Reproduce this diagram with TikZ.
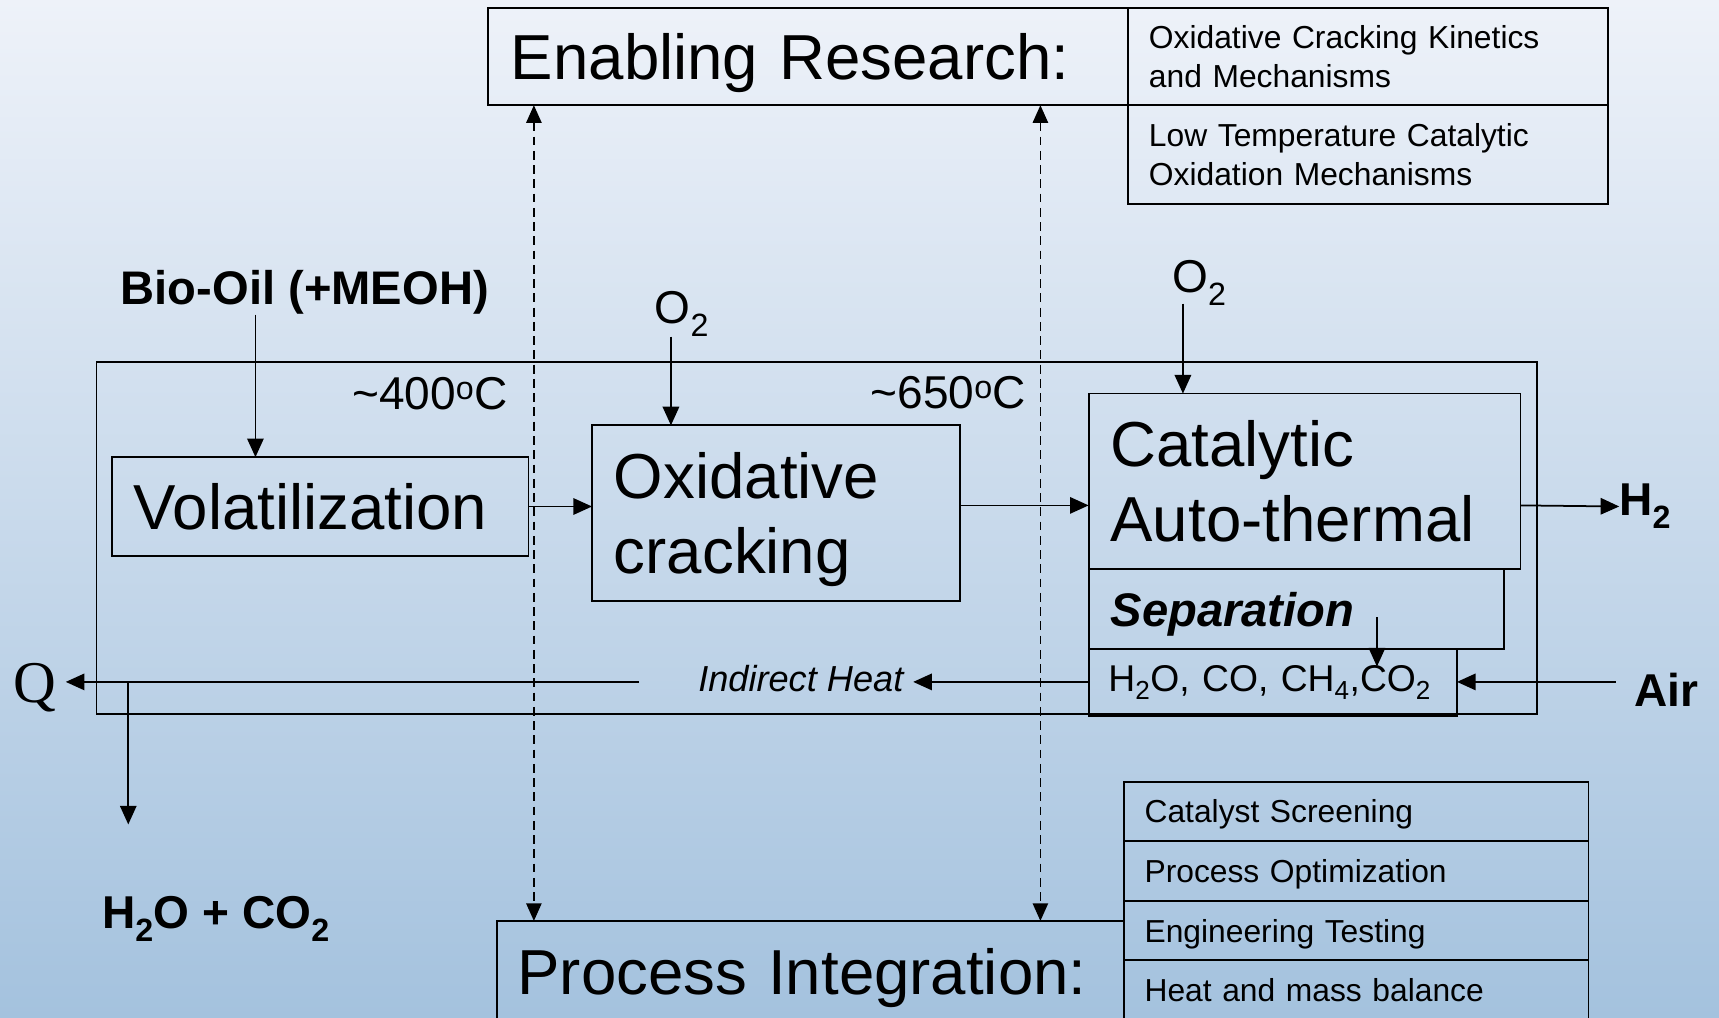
\documentclass[tikz,border=0pt]{standalone}
\usepackage{fontspec}
\setmainfont{Liberation Sans}
\newfontfamily\qfont{Liberation Serif}
\usetikzlibrary{arrows.meta}
\definecolor{bgtop}{RGB}{238,242,249}
\definecolor{bgbot}{RGB}{164,194,222}
\begin{document}
\begin{tikzpicture}[x=1pt,y=-1pt,
  every node/.style={inner sep=0pt, outer sep=0pt},
  box/.style={draw, line width=1.6pt, align=left, inner ysep=0pt},
  one/.style={text depth=0pt},
  big/.style={font=\fontsize{58}{69}\selectfont},
  small/.style={font=\fontsize{29}{35}\selectfont},
  mid/.style={font=\fontsize{42}{50}\selectfont},
  arr/.style={line width=1.6pt, -{Triangle[length=17pt,width=15pt]}},
  dasharr/.style={line width=1.2pt, dash pattern=on 8pt off 5pt, {Triangle[length=16pt,width=14pt]}-{Triangle[length=16pt,width=14pt]}}
]
\useasboundingbox (0,0) rectangle (1568,928);
\clip (0,0) rectangle (1568,928);
\shade[top color=bgtop, bottom color=bgbot] (0,0) rectangle (1568,928);

% reactor outline
\node[draw, line width=1.6pt, minimum width=1314pt, minimum height=321pt] (reactor) at (745,490.5) {};

% Enabling research
\node[box, one, big, minimum width=584pt, minimum height=89pt, inner xsep=21pt, text width=542pt] (enab) at (737,51.5) {Enabling Research:};
\node[box, small, minimum width=438pt, minimum height=89pt, inner xsep=19pt, text width=400pt] (er1) at (1248,51.5) {Oxidative Cracking Kinetics\\and Mechanisms};
\node[box, small, minimum width=438pt, minimum height=90pt, inner xsep=19pt, text width=400pt] (er2) at (1248,141) {Low Temperature Catalytic\\Oxidation Mechanisms};

% Process integration
\node[box, one, big, minimum width=572pt, minimum height=92pt, inner xsep=19pt, text width=534pt] (proc) at (739,886) {Process Integration:};
\node[box, one, small, minimum width=424pt, minimum height=54pt, inner xsep=19pt, text width=386pt] (pi1) at (1237,740) {Catalyst Screening};
\node[box, one, small, minimum width=424pt, minimum height=55pt, inner xsep=19pt, text width=386pt] (pi2) at (1237,794.5) {Process Optimization};
\node[box, one, small, minimum width=424pt, minimum height=54pt, inner xsep=19pt, text width=386pt] (pi3) at (1237,849) {Engineering Testing};
\node[box, one, small, minimum width=424pt, minimum height=54pt, inner xsep=19pt, text width=386pt] (pi4) at (1237,903) {Heat and mass balance};

% process boxes
\node[box, one, big, minimum width=380pt, minimum height=90pt, inner xsep=20pt, text width=340pt] (vol) at (292,462) {Volatilization};
\node[box, big, minimum width=336pt, minimum height=160pt, inner xsep=20pt, text width=296pt, text depth=69pt] (ox) at (708,468) {Oxidative\\cracking};
\node[box, big, minimum width=394pt, minimum height=160pt, inner xsep=20pt, text width=354pt] (cat) at (1190,439) {Catalytic\\Auto-thermal};
\node[box, one, minimum width=379pt, minimum height=73pt, inner xsep=20pt, text width=339pt, font=\fontsize{43}{50}\selectfont\bfseries\itshape] (sep) at (1182.5,555.5) {Separation};
\node[box, minimum width=336pt, minimum height=61pt, inner xsep=18pt, text width=300pt, font=\fontsize{34}{40}\selectfont] (h2o) at (1161,622.5) {H\textsubscript{2}O, CO, CH\textsubscript{4},CO\textsubscript{2}};

% labels
\node[mid, font=\fontsize{43}{50}\selectfont\bfseries] (bio) at (278,267) {Bio-Oil (+MEOH)};
\node[mid, anchor=east] (t400) at (463,359) {\textasciitilde400\textsuperscript{o}C};
\node[mid, anchor=east] (t650) at (936,358) {\textasciitilde650\textsuperscript{o}C};
\node[mid] (o2a) at (622,286) {O\textsubscript{2}};
\node[mid] (o2b) at (1094,258) {O\textsubscript{2}};
\node[mid, font=\fontsize{42}{50}\selectfont\bfseries, anchor=west] (h2) at (1477,462) {H\textsubscript{2}};
\node[mid, font=\fontsize{42}{50}\selectfont\bfseries, anchor=west] (air) at (1491,629) {Air};
\node[font=\fontsize{33}{40}\selectfont\itshape, anchor=east] (ih) at (824,619) {Indirect Heat};
\node[font=\fontsize{54}{60}\selectfont\qfont, anchor=east] (q) at (51,627) {Q};
\node[mid, font=\fontsize{42}{50}\selectfont\bfseries] (wat) at (197,838) {H\textsubscript{2}O + CO\textsubscript{2}};

% coordinates
\coordinate (b1) at (233,287);
\coordinate (a1) at (612,307);
\coordinate (a2) at (1079,277);
\coordinate (c1) at (876,461);
\coordinate (c2) at (1387,461);
\coordinate (s1) at (1256,563);
\coordinate (s2) at (1256,608);
\coordinate (airs) at (1474,622);
\coordinate (iht) at (833,622);
\coordinate (ihs) at (583,622);
\coordinate (qt) at (60,622);
\coordinate (w1) at (117,622);
\coordinate (w2) at (117,752);
\coordinate (d1) at (487,0);
\coordinate (d2) at (949,0);

% connectors
\draw[arr] (b1) -- (b1 |- vol.north);
\draw[arr] (a1) -- (a1 |- ox.north);
\draw[arr] (a2) -- (a2 |- cat.north);
\draw[arr] (vol.east) -- (vol.east -| ox.west);
\draw[arr] (c1) -- (c1 -| cat.west);
\draw[arr] (c2) -- (h2.west);
\draw[arr] (s1) -- (s2);
\draw[arr] (airs) -- (airs -| h2o.east);
\draw[arr] (h2o.west |- iht) -- (iht);
\draw[arr] (ihs) -- (qt);
\draw[arr] (w1) -- (w2);
\draw[dasharr] (d1 |- enab.south) -- (d1 |- proc.north);
\draw[dasharr] (d2 |- enab.south) -- (d2 |- proc.north);
\end{tikzpicture}
\end{document}
